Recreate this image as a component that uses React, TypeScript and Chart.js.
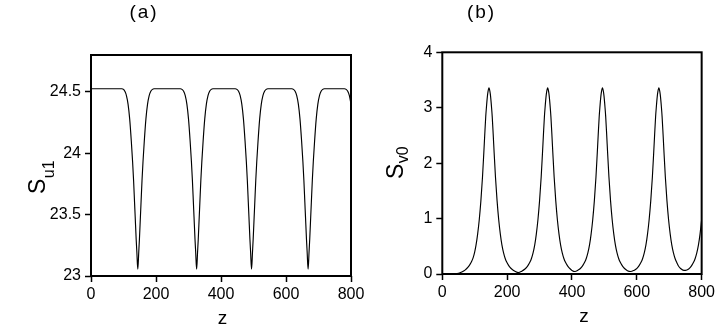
import React, { useEffect, useRef } from "react";
import { Chart, registerables } from "chart.js";

Chart.register(...registerables);

// ---- data ----
const zValues = [
  0, 20, 40, 50, 60, 70, 80, 85, 90, 95, 100, 104, 109, 114, 119, 124, 128, 131, 134, 136, 139, 141, 144,
  147, 149, 152, 154, 157, 160, 164, 169, 174, 179, 184, 189, 194, 199, 204, 209, 214, 224, 235,
  245, 255, 260, 265, 270, 275, 280, 285, 290, 295, 300, 305, 309, 312, 315, 317, 320, 322, 325,
  328, 330, 333, 335, 338, 341, 345, 350, 355, 360, 365, 370, 375, 380, 385, 390, 395, 400, 409,
  419, 424, 429, 434, 439, 444, 449, 454, 459, 464, 469, 474, 478, 481, 484, 486, 489, 491, 494,
  497, 499, 502, 504, 507, 510, 514, 519, 524, 529, 534, 539, 544, 549, 554, 559, 564, 571, 581,
  591, 598, 603, 608, 613, 618, 623, 628, 633, 638, 643, 648, 652, 655, 658, 660, 663, 665, 668,
  671, 673, 676, 678, 681, 684, 688, 693, 698, 703, 708, 713, 718, 723, 728, 735, 745, 750, 760,
  765, 770, 775, 780, 785, 790, 795, 800,
];

const su1Values = [
  24.525, 24.525, 24.525, 24.525, 24.525, 24.525, 24.525, 24.525, 24.525, 24.525, 24.52, 24.505, 24.47,
  24.4, 24.28, 24.1, 23.93, 23.78, 23.6, 23.48, 23.3, 23.2, 23.055,
  23.2, 23.3, 23.48, 23.6, 23.78, 23.93, 24.1, 24.28, 24.4, 24.47, 24.505, 24.52, 24.525, 24.525,
  24.525, 24.525, 24.525, 24.525, 24.525,
  24.525, 24.525, 24.525, 24.525, 24.525, 24.525, 24.52, 24.505, 24.47, 24.4, 24.28, 24.1, 23.93,
  23.78, 23.6, 23.48, 23.3, 23.2, 23.055,
  23.2, 23.3, 23.48, 23.6, 23.78, 23.93, 24.1, 24.28, 24.4, 24.47, 24.505, 24.52, 24.525, 24.525,
  24.525, 24.525, 24.525, 24.525, 24.525,
  24.525, 24.525, 24.525, 24.525, 24.525, 24.525, 24.52, 24.505, 24.47, 24.4, 24.28, 24.1, 23.93,
  23.78, 23.6, 23.48, 23.3, 23.2, 23.055,
  23.2, 23.3, 23.48, 23.6, 23.78, 23.93, 24.1, 24.28, 24.4, 24.47, 24.505, 24.52, 24.525, 24.525,
  24.525, 24.525, 24.525, 24.525, 24.525,
  24.525, 24.525, 24.525, 24.525, 24.525, 24.525, 24.52, 24.505, 24.47, 24.4, 24.28, 24.1, 23.93,
  23.78, 23.6, 23.48, 23.3, 23.2, 23.055,
  23.2, 23.3, 23.48, 23.6, 23.78, 23.93, 24.1, 24.28, 24.4, 24.47, 24.505, 24.52, 24.525, 24.525,
  24.525, 24.525, 24.525, 24.525, 24.525,
  24.525, 24.525, 24.525, 24.525, 24.52, 24.505, 24.47, 24.4,
];

const sv0Values = [
  0, 0, 0.003, 0.012, 0.035, 0.07, 0.13, 0.17, 0.22, 0.29, 0.4, 0.52, 0.72, 0.98, 1.32, 1.75, 2.18,
  2.52, 2.84, 3.0, 3.2, 3.29, 3.36,
  3.29, 3.2, 3.0, 2.84, 2.52, 2.18, 1.75, 1.32, 0.98, 0.72, 0.52, 0.38, 0.28, 0.21, 0.16, 0.12, 0.09,
  0.05, 0.025,
  0.05, 0.09, 0.12, 0.16, 0.21, 0.28, 0.38, 0.52, 0.72, 0.98, 1.32, 1.75, 2.18, 2.52, 2.84, 3.0, 3.2,
  3.29, 3.36,
  3.29, 3.2, 3.0, 2.84, 2.52, 2.18, 1.75, 1.32, 0.98, 0.72, 0.52, 0.38, 0.28, 0.21, 0.16, 0.12, 0.09,
  0.065, 0.045,
  0.07, 0.09, 0.12, 0.16, 0.21, 0.28, 0.38, 0.52, 0.72, 0.98, 1.32, 1.75, 2.18, 2.52, 2.84, 3.0, 3.2,
  3.29, 3.36,
  3.29, 3.2, 3.0, 2.84, 2.52, 2.18, 1.75, 1.32, 0.98, 0.72, 0.52, 0.38, 0.28, 0.21, 0.16, 0.12, 0.09,
  0.06, 0.045,
  0.065, 0.09, 0.12, 0.16, 0.21, 0.28, 0.38, 0.52, 0.72, 0.98, 1.32, 1.75, 2.18, 2.52, 2.84, 3.0, 3.2,
  3.29, 3.36,
  3.29, 3.2, 3.0, 2.84, 2.52, 2.18, 1.75, 1.32, 0.98, 0.72, 0.52, 0.38, 0.28, 0.21, 0.15, 0.1, 0.065,
  0.065, 0.09, 0.12, 0.16, 0.21, 0.28, 0.38, 0.52, 0.72, 0.98,
];

const xTicks = [0, 200, 400, 600, 800];
const su1Ticks = [23, 23.5, 24, 24.5];
const sv0Ticks = [0, 1, 2, 3, 4];

const TICK_FONT = "'Liberation Sans', Arial, Helvetica, sans-serif";

type PanelProps = {
  canvasLeft: number;
  canvasWidth: number;
  yAxisWidth: number;
  padRight: number;
  padTop: number;
  xAxisHeight: number;
  values: number[];
  yMin: number;
  yMax: number;
  yTicks: number[];
  panelLabel: string;
  panelLabelX: number;
  zLabelX: number;
  zLabelY: number;
  symSub: string;
  symX: number;
  symY: number;
  subShift: number;
};

function Panel(p: PanelProps) {
  const ref = useRef<HTMLCanvasElement | null>(null);

  useEffect(() => {
    if (!ref.current) return;
    const points = zValues.map((z, i) => ({ x: z, y: p.values[i] }));

    const decor = {
      id: "decor",
      afterDraw(chart: any) {
        const ctx = chart.ctx as CanvasRenderingContext2D;
        const a = chart.chartArea;
        ctx.save();
        // frame
        ctx.strokeStyle = "#000";
        ctx.lineWidth = 2;
        ctx.strokeRect(a.left, a.top, a.right - a.left, a.bottom - a.top);
        ctx.fillStyle = "#000";
        // panel label
        ctx.font = `19px ${TICK_FONT}`;
        (ctx as any).letterSpacing = "2px";
        ctx.textAlign = "center";
        ctx.textBaseline = "alphabetic";
        ctx.fillText(p.panelLabel, p.panelLabelX, 17.5);
        (ctx as any).letterSpacing = "0px";
        // x axis title
        ctx.font = `19px ${TICK_FONT}`;
        ctx.fillText("z", p.zLabelX, p.zLabelY);
        // y axis title with subscript
        ctx.translate(p.symX, p.symY);
        ctx.rotate(-Math.PI / 2);
        ctx.textAlign = "left";
        ctx.font = `23px ${TICK_FONT}`;
        ctx.fillText("S", 0, 0);
        const w = ctx.measureText("S").width;
        ctx.font = `16px ${TICK_FONT}`;
        ctx.fillText(p.symSub, w + 0.5, p.subShift);
        ctx.restore();
      },
    };

    const chart = new Chart(ref.current, {
      type: "line",
      data: {
        datasets: [
          {
            data: points,
            borderColor: "#000",
            borderWidth: 1.15,
            pointRadius: 0,
            fill: false,
            cubicInterpolationMode: "monotone",
          },
        ],
      },
      options: {
        animation: false,
        responsive: false,
        events: [],
        layout: { padding: { left: 0, top: p.padTop, right: p.padRight, bottom: 0 } },
        plugins: { legend: { display: false }, tooltip: { enabled: false }, title: { display: false } },
        scales: {
          x: {
            type: "linear",
            min: 0,
            max: 800,
            afterBuildTicks: (s: any) => {
              s.ticks = xTicks.map((v) => ({ value: v }));
            },
            afterFit: (s: any) => {
              s.height = p.xAxisHeight;
            },
            grid: {
              display: true,
              drawOnChartArea: false,
              drawTicks: true,
              tickLength: 6,
              tickWidth: 1.5,
              tickColor: "#000",
            },
            border: { display: false },
            ticks: {
              color: "#000",
              padding: 3,
              maxRotation: 0,
              font: { family: TICK_FONT, size: 16 },
              callback: (v: any) => String(v),
            },
          },
          y: {
            type: "linear",
            min: p.yMin,
            max: p.yMax,
            afterBuildTicks: (s: any) => {
              s.ticks = p.yTicks.map((v) => ({ value: v }));
            },
            afterFit: (s: any) => {
              s.width = p.yAxisWidth;
            },
            grid: {
              display: true,
              drawOnChartArea: false,
              drawTicks: true,
              tickLength: 6,
              tickWidth: 1.5,
              tickColor: "#000",
            },
            border: { display: false },
            ticks: {
              color: "#000",
              padding: 4,
              font: { family: TICK_FONT, size: 16 },
              callback: (v: any) => String(v),
            },
          },
        },
      },
      plugins: [decor],
    } as any);

    return () => chart.destroy();
  }, []);

  return (
    <canvas
      ref={ref}
      width={p.canvasWidth}
      height={327}
      style={{ position: "absolute", left: p.canvasLeft, top: 0, width: p.canvasWidth, height: 327 }}
    />
  );
}

export default function App() {
  return (
    <div
      style={{
        position: "fixed",
        left: 0,
        top: 0,
        width: 718,
        height: 327,
        background: "#fff",
        overflow: "hidden",
      }}
    >
      <Panel
        canvasLeft={0}
        canvasWidth={400}
        yAxisWidth={91}
        padRight={49}
        padTop={55}
        xAxisHeight={51}
        values={su1Values}
        yMin={23}
        yMax={24.8}
        yTicks={su1Ticks}
        panelLabel="(a)"
        panelLabelX={144}
        zLabelX={222.5}
        zLabelY={324}
        symSub="u1"
        symX={45}
        symY={194}
        subShift={8.5}
      />
      <Panel
        canvasLeft={370}
        canvasWidth={348}
        yAxisWidth={72.3}
        padRight={15.3}
        padTop={52.3}
        xAxisHeight={53}
        values={sv0Values}
        yMin={0}
        yMax={4}
        yTicks={sv0Ticks}
        panelLabel="(b)"
        panelLabelX={111.5}
        zLabelX={214}
        zLabelY={321.7}
        symSub="v0"
        symX={32.5}
        symY={179}
        subShift={5.5}
      />
    </div>
  );
}
